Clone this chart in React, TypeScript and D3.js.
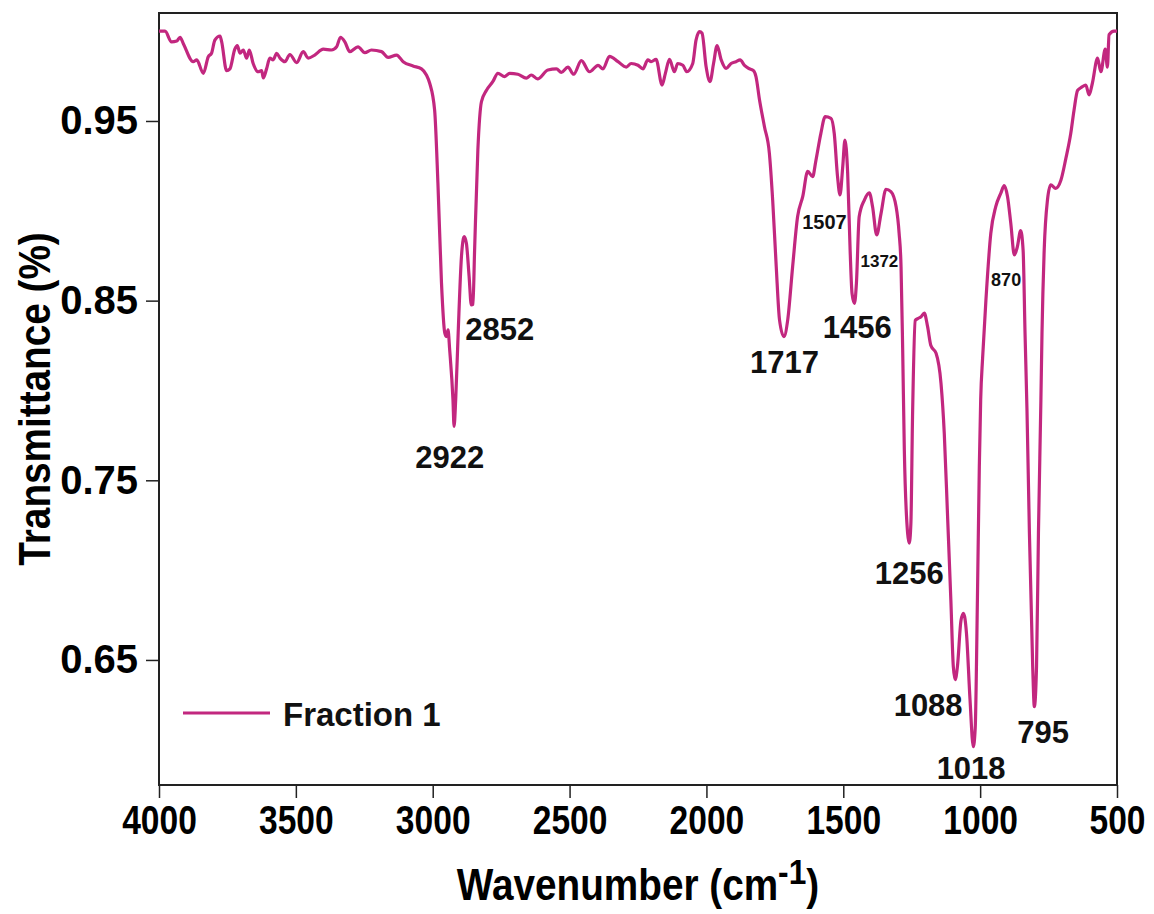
import React, { useRef, useEffect } from 'react';
import * as d3 from 'd3';

// wavenumber (cm-1) left to right
const wavenumbers = [
  4000, 3978, 3954, 3935, 3923, 3911, 3875, 3862, 3838, 3820, 3808, 3796, 3777, 3771, 3753, 3741,
  3723, 3714, 3704, 3692, 3680, 3670, 3656, 3638, 3625, 3619, 3607, 3595, 3583, 3570, 3558, 3540,
  3522, 3497, 3473, 3455, 3431, 3400, 3370, 3351, 3337, 3321, 3303, 3273, 3248, 3224, 3187, 3163,
  3132, 3108, 3072, 3041, 3023, 3011, 2993, 2981, 2968, 2956, 2950, 2944, 2938, 2926, 2922, 2916,
  2907, 2895, 2885, 2877, 2867, 2859, 2853, 2847, 2835, 2822, 2804, 2780, 2762, 2737, 2719, 2689,
  2658, 2640, 2617, 2579, 2548, 2530, 2506, 2485, 2457, 2427, 2396, 2378, 2354, 2323, 2293, 2275,
  2250, 2232, 2214, 2202, 2184, 2162, 2150, 2135, 2117, 2105, 2086, 2072, 2050, 2038, 2025, 2016,
  2001, 1987, 1974, 1961, 1946, 1928, 1910, 1892, 1877, 1861, 1846, 1828, 1819, 1806, 1788, 1770,
  1758, 1745, 1733, 1717, 1703, 1685, 1667, 1648, 1630, 1612, 1600, 1582, 1566, 1545, 1533, 1521,
  1512, 1502, 1494, 1484, 1475, 1468, 1459, 1452, 1442, 1423, 1405, 1393, 1378, 1362, 1344, 1326,
  1307, 1296, 1289, 1283, 1277, 1265, 1259, 1253, 1247, 1237, 1228, 1216, 1204, 1192, 1180, 1161,
  1143, 1131, 1119, 1107, 1098, 1091, 1083, 1070, 1061, 1050, 1037, 1025, 1018, 1010, 1003, 998,
  991, 979, 961, 943, 924, 912, 900, 888, 875, 864, 852, 843, 836, 829, 820, 808,
  802, 794, 787, 778, 774, 766, 754, 742, 724, 705, 687, 669, 657, 644, 629, 614,
  602, 590, 571, 559, 543, 535, 529, 511, 500,
];

// transmittance for each wavenumber above
const fraction1 = [
  1.000, 1.000, 0.994, 0.9945, 0.9966, 0.993, 0.983, 0.984, 0.9765, 0.9858, 0.9877, 0.995, 0.9973, 0.994, 0.978, 0.979,
  0.990, 0.992, 0.9877, 0.9895, 0.985, 0.9895, 0.982, 0.9774, 0.978, 0.974, 0.979, 0.985, 0.984, 0.9877, 0.985, 0.983,
  0.987, 0.9825, 0.9886, 0.985, 0.9867, 0.990, 0.9895, 0.9913, 0.9966, 0.994, 0.9886, 0.9913, 0.988, 0.9895, 0.9886, 0.9854,
  0.9867, 0.983, 0.9806, 0.979, 0.9756, 0.971, 0.956, 0.9155, 0.860, 0.832, 0.830, 0.8337, 0.8226, 0.7947, 0.780, 0.795,
  0.832, 0.8745, 0.8856, 0.882, 0.8634, 0.8476, 0.848, 0.878, 0.934, 0.9607, 0.967, 0.972, 0.9765, 0.9747, 0.9765, 0.976,
  0.9738, 0.9756, 0.9734, 0.9784, 0.979, 0.977, 0.980, 0.976, 0.9836, 0.9774, 0.981, 0.979, 0.986, 0.983, 0.980, 0.982,
  0.981, 0.979, 0.984, 0.983, 0.9843, 0.970, 0.9765, 0.9843, 0.9774, 0.982, 0.981, 0.9774, 0.982, 0.995, 0.9997, 0.9988,
  0.980, 0.9719, 0.982, 0.992, 0.984, 0.9793, 0.982, 0.983, 0.984, 0.981, 0.9793, 0.978, 0.9747, 0.9617, 0.9468, 0.932,
  0.906, 0.869, 0.8393, 0.830, 0.8393, 0.869, 0.8967, 0.908, 0.922, 0.919, 0.928, 0.943, 0.9524, 0.9515, 0.943, 0.919,
  0.9088, 0.9246, 0.9394, 0.921, 0.878, 0.854, 0.8485, 0.8597, 0.8967, 0.906, 0.910, 0.9023, 0.8866, 0.8986, 0.912, 0.9107,
  0.9023, 0.8875, 0.869, 0.8226, 0.767, 0.7206, 0.715, 0.726, 0.7855, 0.839, 0.840, 0.841, 0.843, 0.8355, 0.825, 0.8207,
  0.804, 0.776, 0.730, 0.6834, 0.6463, 0.639, 0.6463, 0.672, 0.676, 0.665, 0.628, 0.6018, 0.612, 0.6834, 0.7576, 0.795,
  0.818, 0.850, 0.8875, 0.9023, 0.910, 0.914, 0.908, 0.893, 0.8754, 0.880, 0.889, 0.878, 0.832, 0.790, 0.7207, 0.6463,
  0.624, 0.6463, 0.7206, 0.795, 0.832, 0.878, 0.906, 0.9144, 0.9125, 0.917, 0.929, 0.943, 0.956, 0.967, 0.9688, 0.970,
  0.9645, 0.971, 0.985, 0.9774, 0.990, 0.980, 0.998, 1.000, 1.000,
];

const xTicks = [4000, 3500, 3000, 2500, 2000, 1500, 1000, 500];
const yTicks = [0.65, 0.75, 0.85, 0.95];

// peak annotations: text, label anchor (wavenumber, transmittance), font size
const peakText = ['2922', '2852', '1717', '1507', '1456', '1372', '1256', '1088', '1018', '870', '795'];
const peakWn = [2938, 2755, 1715, 1569, 1449, 1368, 1259, 1190, 1033, 905, 770];
const peakT = [0.757, 0.828, 0.810, 0.890, 0.829, 0.869, 0.692, 0.619, 0.584, 0.858, 0.604];
const peakSize = [31, 31, 31, 20, 31, 17, 31, 31, 31, 18, 31];

const seriesName = 'Fraction 1';
const lineColor = '#c2277f';
const font = "'Liberation Sans', Arial, sans-serif";

const App = () => {
  const svgRef = useRef(null);

  useEffect(() => {
    const width = 1154;
    const height = 914;
    const margin = { top: 13, right: 37, bottom: 129, left: 159 };

    const svg = d3.select(svgRef.current)
      .attr('width', width)
      .attr('height', height)
      .style('background', '#fff');
    svg.selectAll('*').remove();

    const x = d3.scaleLinear()
      .domain([4000, 500])
      .range([margin.left, width - margin.right]);

    const y = d3.scaleLinear()
      .domain([0.5804, 1.0101])
      .range([height - margin.bottom, margin.top]);

    // axes
    const xAxis = d3.axisBottom(x).tickValues(xTicks).tickSize(13).tickPadding(8).tickFormat(d3.format('d'));
    const yAxis = d3.axisLeft(y).tickValues(yTicks).tickSize(13).tickPadding(8).tickFormat(d3.format('.2f'));

    const gx = svg.append('g')
      .attr('transform', `translate(0, ${height - margin.bottom})`)
      .call(xAxis);
    gx.select('.domain').remove();
    gx.selectAll('line').attr('stroke', '#222').attr('stroke-width', 1.5);
    gx.selectAll('text')
      .attr('font-family', font)
      .attr('font-weight', 'bold')
      .attr('font-size', 40)
      .attr('fill', '#000')
      .attr('transform', 'scale(0.84,1)');

    const gy = svg.append('g')
      .attr('transform', `translate(${margin.left}, 0)`)
      .call(yAxis);
    gy.select('.domain').remove();
    gy.selectAll('line').attr('stroke', '#222').attr('stroke-width', 1.5);
    gy.selectAll('text')
      .attr('font-family', font)
      .attr('font-weight', 'bold')
      .attr('font-size', 40)
      .attr('fill', '#000');

    // frame
    svg.append('rect')
      .attr('x', margin.left)
      .attr('y', margin.top)
      .attr('width', width - margin.left - margin.right)
      .attr('height', height - margin.top - margin.bottom)
      .attr('fill', 'none')
      .attr('stroke', '#222')
      .attr('stroke-width', 2);

    // spectrum
    const line = d3.line()
      .x((d) => x(d[0]))
      .y((d) => y(d[1]))
      .curve(d3.curveMonotoneX);

    svg.append('path')
      .datum(wavenumbers.map((w, i) => [w, fraction1[i]]))
      .attr('fill', 'none')
      .attr('stroke', lineColor)
      .attr('stroke-width', 3.2)
      .attr('stroke-linejoin', 'round')
      .attr('d', line);

    // peak labels
    svg.append('g')
      .selectAll('text')
      .data(peakText)
      .join('text')
      .attr('x', (d, i) => x(peakWn[i]))
      .attr('y', (d, i) => y(peakT[i]))
      .attr('text-anchor', 'middle')
      .attr('font-family', font)
      .attr('font-weight', 'bold')
      .attr('font-size', (d, i) => peakSize[i])
      .attr('fill', '#111')
      .text((d) => d);

    // legend
    const legend = svg.append('g').attr('transform', 'translate(183, 713)');
    legend.append('line')
      .attr('x1', 0).attr('x2', 87)
      .attr('stroke', lineColor)
      .attr('stroke-width', 3.2);
    legend.append('text')
      .attr('x', 100)
      .attr('y', 13)
      .attr('font-family', font)
      .attr('font-weight', 'bold')
      .attr('font-size', 33)
      .attr('fill', '#111')
      .text(seriesName);

    // axis titles
    const xt = svg.append('text')
      .attr('transform', `translate(${(margin.left + width - margin.right) / 2}, 900) scale(0.88,1)`)
      .attr('text-anchor', 'middle')
      .attr('font-family', font)
      .attr('font-weight', 'bold')
      .attr('font-size', 44)
      .attr('fill', '#000');
    xt.append('tspan').text('Wavenumber (cm');
    xt.append('tspan').attr('dy', -16).attr('font-size', 36).text('-1');
    xt.append('tspan').attr('dy', 16).text(')');

    svg.append('text')
      .attr('transform', `translate(50, ${(margin.top + height - margin.bottom) / 2}) rotate(-90) scale(0.88,1)`)
      .attr('text-anchor', 'middle')
      .attr('font-family', font)
      .attr('font-weight', 'bold')
      .attr('font-size', 44)
      .attr('fill', '#000')
      .text('Transmittance (%)');
  }, []);

  return <svg ref={svgRef} style={{ position: 'absolute', left: 0, top: 0 }}></svg>;
};

export default App;
